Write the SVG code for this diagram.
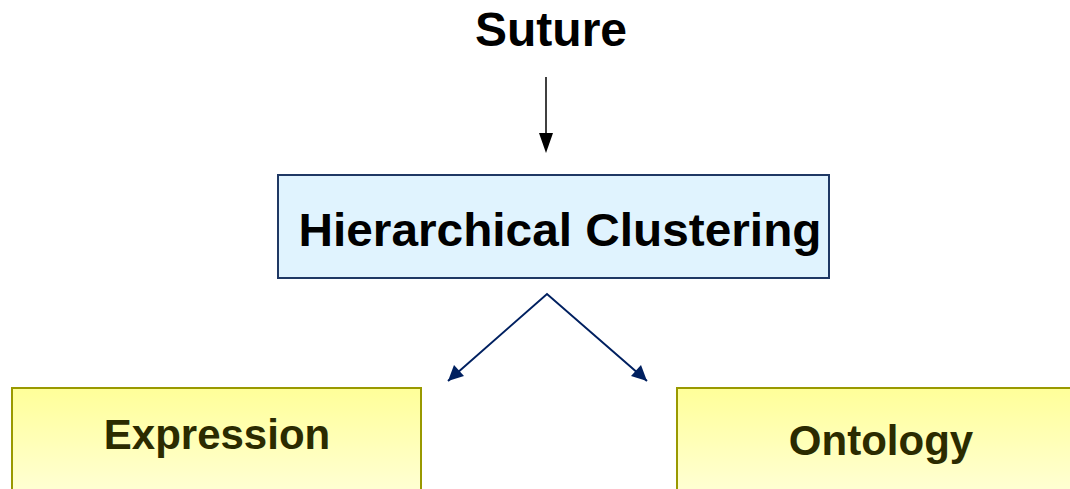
<svg xmlns="http://www.w3.org/2000/svg" width="1070" height="489" viewBox="0 0 1070 489">
<style>
.t{font-family:"Liberation Sans",Arial,sans-serif;font-weight:bold;text-anchor:middle}
.y{fill:url(#yg);stroke:#999900;stroke-width:2}
.ty{fill:#2b2b00;font-size:42px}
.c{fill:none;stroke-width:2}
</style>
<defs>
<linearGradient id="yg" x1="0" y1="0" x2="0" y2="1">
<stop offset="0" stop-color="#ffff99"/>
<stop offset="1" stop-color="#ffffdd"/>
</linearGradient>
</defs>
<g id="suture">
<text class="t" x="551" y="46" font-size="48" fill="#000">Suture</text>
</g>
<g id="hc">
<rect x="278" y="175" width="551" height="103" fill="#e0f3fe" stroke="#1f3864" stroke-width="2"/>
<text class="t" x="560" y="246" font-size="46" fill="#000" textLength="523" lengthAdjust="spacingAndGlyphs">Hierarchical Clustering</text>
</g>
<g id="expression">
<rect class="y" x="12" y="388" width="409" height="120"/>
<text class="t ty" x="217" y="449">Expression</text>
</g>
<g id="ontology">
<rect class="y" x="677" y="388" width="410" height="120"/>
<text class="t ty" x="881" y="455">Ontology</text>
</g>
<g id="connectors">
<line x1="546" y1="77" x2="546" y2="135" stroke="#000" stroke-width="1.5"/>
<path d="M539,133 L553,133 L546,153 z" fill="#000"/>
<path class="c" d="M448,381 L547,294 L647,381" stroke="#002060" stroke-linejoin="miter"/>
<path d="M448,381 L454,365 L464,376 z" fill="#002060"/>
<path d="M647,381 L631,376 L641,365 z" fill="#002060"/>
</g>
</svg>
